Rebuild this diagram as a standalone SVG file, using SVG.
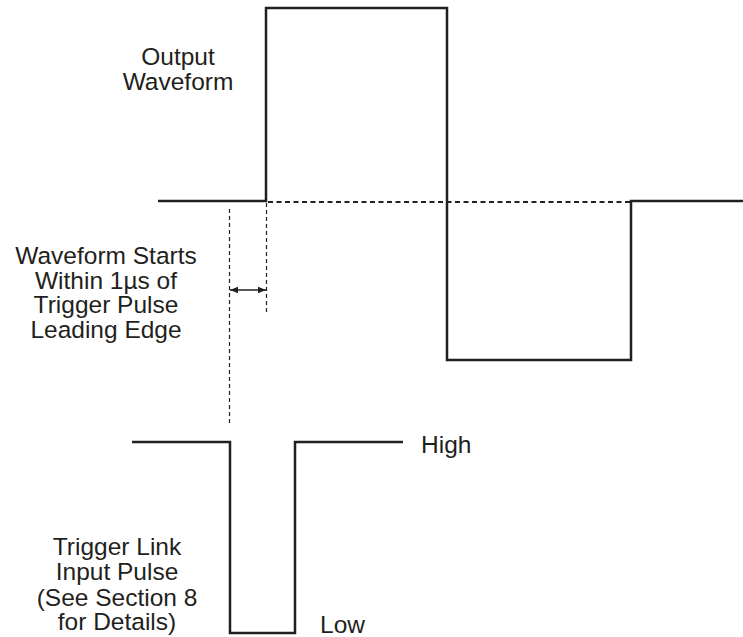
<svg xmlns="http://www.w3.org/2000/svg" width="743" height="637" viewBox="0 0 743 637">
<style>
.w{fill:none;stroke:#231f20;stroke-width:2.5;stroke-linejoin:miter}
.d{fill:none;stroke:#231f20;stroke-width:2.2;stroke-dasharray:5 3.5}
.g{fill:none;stroke:#231f20;stroke-width:1.2;stroke-dasharray:4 3}
.a{fill:none;stroke:#231f20;stroke-width:1.3}
text{font-family:"Liberation Sans",Arial,Helvetica,sans-serif;font-size:24.5px;fill:#231f20}
.c{text-anchor:middle}
</style>
<defs>
<marker id="ah" viewBox="0 0 10 10" refX="10" refY="5" markerWidth="8" markerHeight="8" markerUnits="userSpaceOnUse" orient="auto-start-reverse">
<path d="M0,1 L10,5 L0,9 Z" fill="#231f20"/>
</marker>
</defs>
<g id="output-waveform">
<path class="w" d="M158,201 H266 V8 H447 V360 H631 V201 H743"/>
<text class="c" x="178" y="65">Output</text>
<text class="c" x="178" y="89.5">Waveform</text>
</g>
<g id="trigger-pulse">
<path class="w" d="M132,442 H230 V633 H295 V442 H403"/>
<text class="c" x="117" y="555">Trigger Link</text>
<text class="c" x="117" y="580">Input Pulse</text>
<text class="c" x="117" y="605.5">(See Section 8</text>
<text class="c" x="117" y="630">for Details)</text>
<text x="421" y="453">High</text>
<text x="320" y="633">Low</text>
</g>
<g id="delay-label">
<text class="c" x="106" y="264">Waveform Starts</text>
<text class="c" x="106" y="288.5">Within 1µs of</text>
<text class="c" x="106" y="313">Trigger Pulse</text>
<text class="c" x="106" y="337.5">Leading Edge</text>
</g>
<g id="connectors">
<path class="d" d="M268,202 H631"/>
<path class="g" d="M229.5,209 V426"/>
<path class="g" d="M266.5,203 V312"/>
<path class="a" d="M230,290 H266" marker-start="url(#ah)" marker-end="url(#ah)"/>
</g>
</svg>
